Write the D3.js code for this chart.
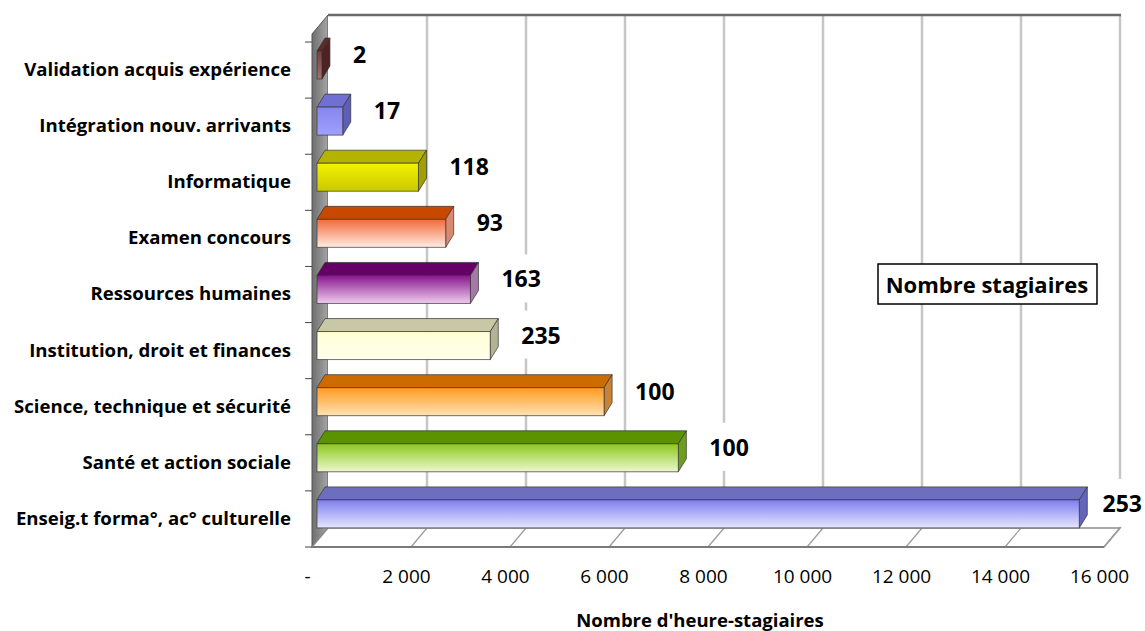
<!DOCTYPE html>
<html>
<head>
<meta charset="utf-8">
<script src="https://cdnjs.cloudflare.com/ajax/libs/d3/7.8.5/d3.min.js"></script>
<style>
  body { margin: 0; background: #fff; }
  svg { display: block; }
  text { font-family: "Open Sans", Lato, sans-serif; fill: #000; }
</style>
</head>
<body>
<div id="chart"></div>
<script>
// Data (top to bottom)
const categories = [
    "Validation acquis expérience",
    "Intégration nouv. arrivants",
    "Informatique",
    "Examen concours",
    "Ressources humaines",
    "Institution, droit et finances",
    "Science, technique et sécurité",
    "Santé et action sociale",
    "Enseig.t forma°, ac° culturelle"
];
const hours = [100, 520, 2050, 2600, 3100, 3500, 5800, 7300, 15400];
const trainees = [2, 17, 118, 93, 163, 235, 100, 100, 253];
const xTicks = [0, 2000, 4000, 6000, 8000, 10000, 12000, 14000, 16000];
const xTitle = "Nombre d'heure-stagiaires";
const legendLabel = "Nombre stagiaires";

// Bar styles: front gradient (top -> bottom), top face, side face
const barStyles = [
    { front: ["#7a3c3c", "#a87070"], top: "#5e2a2a", side: "#4e2222" },
    { front: ["#8585ee", "#a0a0ff"], top: "#7070d4", side: "#5e5eb8" },
    { front: ["#f2f200", "#c8c800"], top: "#b4b400", side: "#a0a000" },
    { front: ["#f26a3a", "#ffece4"], top: "#c84800", side: "#d88a70" },
    { front: ["#86168a", "#f0ccf0"], top: "#640066", side: "#a678a8" },
    { front: ["#ffffd6", "#ffffec"], top: "#c8c8a6", side: "#b4b494" },
    { front: ["#ff9a1e", "#ffe2b4"], top: "#cc6c00", side: "#c88434" },
    { front: ["#8cc81e", "#ecf8cc"], top: "#5a9200", side: "#6e9e1e" },
    { front: ["#7e7ef0", "#e6e6ff"], top: "#6e6ebe", side: "#6464bc" }
];

const width = 1145;
const height = 631;

const svg = d3.select("#chart")
    .append("svg")
    .attr("width", width)
    .attr("height", height);

const x = d3.scaleLinear()
    .domain([0, 16000])
    .range([312, 1104]);

const y = d3.scaleBand()
    .domain(categories)
    .range([42, 547]);

// 3D box depth
const depth = { dx: 16, dy: -19 };
const wallTop = 34;
const floorY = 547;
const x0 = x.range()[0];
const x1 = x.range()[1];

const defs = svg.append("defs");

const sideGrad = defs.append("linearGradient")
    .attr("id", "side-wall")
    .attr("x1", 0).attr("x2", 1).attr("y1", 0).attr("y2", 0);
sideGrad.append("stop").attr("offset", "0%").attr("stop-color", "#6e6e6e");
sideGrad.append("stop").attr("offset", "100%").attr("stop-color", "#a6a6a6");

// left side wall
svg.append("polygon")
    .attr("points", [
        [x0, wallTop], [x0 + depth.dx, wallTop + depth.dy],
        [x0 + depth.dx, floorY + depth.dy], [x0, floorY]
    ].join(" "))
    .attr("fill", "url(#side-wall)")
    .attr("stroke", "#555")
    .attr("stroke-width", 1);

// back wall
svg.append("rect")
    .attr("x", x0 + depth.dx)
    .attr("y", wallTop + depth.dy)
    .attr("width", x1 - x0)
    .attr("height", floorY - wallTop)
    .attr("fill", "#fff");

svg.append("g")
    .selectAll("line")
    .data(xTicks.slice(1))
    .enter()
    .append("line")
    .attr("x1", d => x(d) + depth.dx)
    .attr("x2", d => x(d) + depth.dx)
    .attr("y1", wallTop + depth.dy)
    .attr("y2", floorY + depth.dy)
    .attr("stroke", "#c6c6c6")
    .attr("stroke-width", 2.5);

svg.append("line")
    .attr("x1", x0 + depth.dx)
    .attr("x2", x1 + depth.dx + 1)
    .attr("y1", wallTop + depth.dy)
    .attr("y2", wallTop + depth.dy)
    .attr("stroke", "#6a6a6a")
    .attr("stroke-width", 2.5);

// floor
svg.append("polygon")
    .attr("points", [
        [x0, floorY], [x1, floorY],
        [x1 + depth.dx, floorY + depth.dy], [x0 + depth.dx, floorY + depth.dy]
    ].join(" "))
    .attr("fill", "#fff")
    .attr("stroke", "#8c8c8c")
    .attr("stroke-width", 1.5);

svg.append("g")
    .selectAll("line")
    .data(xTicks.slice(1))
    .enter()
    .append("line")
    .attr("x1", d => x(d))
    .attr("x2", d => x(d) + depth.dx)
    .attr("y1", floorY)
    .attr("y2", floorY + depth.dy)
    .attr("stroke", "#9a9a9a")
    .attr("stroke-width", 1.2);

svg.append("line")
    .attr("x1", x0).attr("x2", x1)
    .attr("y1", floorY).attr("y2", floorY)
    .attr("stroke", "#7a7a7a")
    .attr("stroke-width", 2);

// left ticks on band boundaries
const boundaries = categories.map(c => y(c)).concat([y.range()[1]]);
svg.append("g")
    .selectAll("line")
    .data(boundaries)
    .enter()
    .append("line")
    .attr("x1", x0 - 7)
    .attr("x2", x0)
    .attr("y1", d => d)
    .attr("y2", d => d)
    .attr("stroke", "#444")
    .attr("stroke-width", 1);

// bars
const barShift = 5;
const barTop = 9;
const barHeight = 28;
const bd = { dx: 8, dy: -13 };

barStyles.forEach((s, i) => {
    const g = defs.append("linearGradient")
        .attr("id", "bar-" + i)
        .attr("x1", 0).attr("x2", 0).attr("y1", 0).attr("y2", 1);
    g.append("stop").attr("offset", "0%").attr("stop-color", s.front[0]);
    g.append("stop").attr("offset", "100%").attr("stop-color", s.front[1]);
});

const bars = svg.append("g")
    .selectAll("g")
    .data(categories)
    .enter()
    .append("g");

const bx0 = () => x(0) + barShift;
const bx1 = (d, i) => x(hours[i]) + barShift;
const by0 = d => y(d) + barTop;

bars.append("polygon")
    .attr("points", (d, i) => [
        [bx0(), by0(d)], [bx1(d, i), by0(d)],
        [bx1(d, i) + bd.dx, by0(d) + bd.dy], [bx0() + bd.dx, by0(d) + bd.dy]
    ].join(" "))
    .attr("fill", (d, i) => barStyles[i].top)
    .attr("stroke", "#333")
    .attr("stroke-opacity", 0.7)
    .attr("stroke-width", 1);

bars.append("polygon")
    .attr("points", (d, i) => [
        [bx1(d, i), by0(d)], [bx1(d, i) + bd.dx, by0(d) + bd.dy],
        [bx1(d, i) + bd.dx, by0(d) + bd.dy + barHeight], [bx1(d, i), by0(d) + barHeight]
    ].join(" "))
    .attr("fill", (d, i) => barStyles[i].side)
    .attr("stroke", "#333")
    .attr("stroke-opacity", 0.7)
    .attr("stroke-width", 1);

bars.append("rect")
    .attr("x", bx0())
    .attr("y", d => by0(d))
    .attr("width", (d, i) => bx1(d, i) - bx0())
    .attr("height", barHeight)
    .attr("fill", (d, i) => "url(#bar-" + i + ")")
    .attr("stroke", "#333")
    .attr("stroke-opacity", 0.7)
    .attr("stroke-width", 1);

// value labels (number of trainees) with white background
const labels = svg.append("g")
    .selectAll("g")
    .data(categories)
    .enter()
    .append("g");

labels.append("text")
    .attr("x", (d, i) => bx1(d, i) + 31)
    .attr("y", d => by0(d) + 3)
    .attr("dominant-baseline", "central")
    .style("font-size", "23px")
    .style("font-weight", "bold")
    .text((d, i) => trainees[i]);

labels.each(function () {
    const t = d3.select(this).select("text");
    let b = t.node().getBBox();
    // keep the label inside the picture
    if (b.x + b.width > width - 3) {
        t.attr("x", width - 3 - b.width);
        b = t.node().getBBox();
    }
    d3.select(this).insert("rect", "text")
        .attr("x", b.x - 6)
        .attr("y", b.y - 8)
        .attr("width", b.width + 12)
        .attr("height", b.height + 16)
        .attr("fill", "#fff");
});

// category axis
const yAxis = svg.append("g")
    .attr("transform", `translate(${x0},0)`)
    .call(d3.axisLeft(y).tickSize(0).tickPadding(21));
yAxis.select(".domain").remove();
yAxis.selectAll("text")
    .style("font-family", "'Open Sans', Lato, sans-serif")
    .style("font-size", "18.6px")
    .style("font-weight", "bold")
    .attr("fill", "#000");

// value axis
const fr = d3.formatLocale({ decimal: ",", thousands: "\u00a0", grouping: [3], currency: ["", " €"] });
const fmt = fr.format(",d");
const xAxis = svg.append("g")
    .attr("transform", `translate(-5,${floorY})`)
    .call(d3.axisBottom(x)
        .tickValues(xTicks)
        .tickSize(0)
        .tickPadding(23)
        .tickFormat(d => d === 0 ? "-" : fmt(d)));
xAxis.select(".domain").remove();
xAxis.selectAll("text")
    .style("font-family", "'Open Sans', Lato, sans-serif")
    .style("font-size", "19px")
    .attr("fill", "#000");

svg.append("text")
    .attr("x", 700)
    .attr("y", 627)
    .attr("text-anchor", "middle")
    .style("font-size", "18.5px")
    .style("font-weight", "bold")
    .text(xTitle);

// legend box
svg.append("rect")
    .attr("x", 878)
    .attr("y", 264)
    .attr("width", 219)
    .attr("height", 40)
    .attr("fill", "#fff")
    .attr("stroke", "#000")
    .attr("stroke-width", 1.5);

svg.append("text")
    .attr("x", 987)
    .attr("y", 284)
    .attr("text-anchor", "middle")
    .attr("dominant-baseline", "central")
    .style("font-size", "22px")
    .style("font-weight", "bold")
    .text(legendLabel);
</script>
</body>
</html>
